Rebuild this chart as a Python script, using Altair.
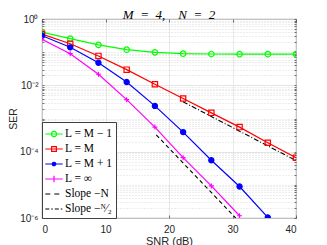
import altair as alt
import pandas as pd

# ---- data ----
snr = [0, 4.444, 8.889, 13.333, 17.778, 22.222, 26.667, 31.111, 35.556, 40]
ser_m_minus_1 = [0.40, 0.255, 0.165, 0.119, 0.099, 0.090, 0.088, 0.087, 0.087, 0.087]
ser_m = [0.353, 0.18, 0.077, 0.0297, 0.0108, 0.0040, 0.00148, 5.5e-4, 1.86e-4, 6.6e-5]
ser_m_plus_1 = [0.314, 0.14, 0.048, 0.0126, 0.0024, 3.9e-4, 5.5e-5, 8.9e-6, 1.04e-6]
ser_inf = [0.245, 0.090, 0.0216, 0.0037, 5.5e-4, 6.6e-5, 9.3e-6, 1.17e-6]

slope_n_snr = [18.0, 30.5]
slope_n_ser = [3.2e-4, 1.0e-6]
slope_half_snr = [22.2, 40.0]
slope_half_ser = [3.2e-3, 5.4e-5]

names = ["L = M − 1", "L = M", "L = M + 1", "L = ∞", "Slope −N", "Slope −ᴺ⁄₂"]
colors = ["#00ff00", "#ff0000", "#0000ff", "#ff00ff", "#000000", "#000000"]
title_text = "M\u2002=\u20024,\u2003N\u2002=\u20022"

x_ticks = [0, 10, 20, 30, 40]
y_major = [1, 1e-2, 1e-4, 1e-6]
y_minor = [m * 10.0 ** k for k in range(-6, 0) for m in range(1, 10)
           if not (m == 1 and k % 2 == 0)]
y_all_ticks = [m * 10.0 ** k for k in range(-6, 0) for m in range(1, 10)] + [1]

# ---- tables ----
rows = []
for name, vals in zip(names[:4], [ser_m_minus_1, ser_m, ser_m_plus_1, ser_inf]):
    for s, v in zip(snr, vals):
        rows.append({"series": name, "snr": s, "ser": v})
curves = pd.DataFrame(rows)

slopes = pd.DataFrame(
    [{"series": names[4], "snr": s, "ser": v} for s, v in zip(slope_n_snr, slope_n_ser)]
    + [{"series": names[5], "snr": s, "ser": v} for s, v in zip(slope_half_snr, slope_half_ser)]
)

legend_df = pd.DataFrame({"series": names, "snr": [20] * 6, "ser": [1e-9] * 6})

xs = alt.Scale(domain=[0, 40], nice=False, zero=False)
ys = alt.Scale(type="log", domain=[1e-6, 1], nice=False)

axis_font = "Liberation Sans"
axis_col = "#262626"

x_axis = alt.Axis(values=x_ticks, grid=True, gridColor="#e3e3e3", gridWidth=0.8,
                  ticks=False, domain=False, labelFont=axis_font, labelFontSize=10,
                  labelColor=axis_col, labelPadding=6, title="SNR (dB)",
                  titleFont=axis_font, titleFontSize=11, titleFontWeight="normal",
                  titleColor=axis_col, titlePadding=1)

y_major_axis = alt.Axis(values=y_major, grid=True, gridColor="#dedede", gridWidth=0.8,
                        ticks=False, domain=False, orient="left",
                        labelExpr="round(log(datum.value)/LN10) == 0 ? '10⁰' : round(log(datum.value)/LN10) == -2 ? '10⁻²' : round(log(datum.value)/LN10) == -4 ? '10⁻⁴' : '10⁻⁶'",
                        labelFont=axis_font, labelFontSize=10, labelColor=axis_col,
                        labelPadding=4, title="SER", titleFont=axis_font,
                        titleFontSize=10.5, titleFontWeight="normal", titleColor=axis_col,
                        titlePadding=1)

y_minor_axis = alt.Axis(values=y_minor, grid=True, gridColor="#c4c4c4", gridWidth=0.6,
                        gridDash=[1, 2], ticks=False, domain=False, labels=False,
                        title=None, orient="left")


def tick_axis(values, orient, size):
    return alt.Axis(values=values, orient=orient, offset=-size, tickSize=size,
                    tickColor=axis_col, tickWidth=0.6, grid=False, domain=False,
                    labels=False, title=None)


slope_layer = alt.Chart(slopes).mark_line(clip=True, strokeWidth=1.1).encode(
    x=alt.X("snr:Q", scale=xs, axis=x_axis),
    y=alt.Y("ser:Q", scale=ys, axis=y_minor_axis),
    strokeDash=alt.StrokeDash("series:N", scale=alt.Scale(domain=names[4:], range=[[4, 3], [5, 2, 1, 2]]), legend=None),
    color=alt.value("black"),
)

line_layer = alt.Chart(curves).mark_line(clip=True, strokeWidth=1.2).encode(
    x=alt.X("snr:Q", scale=xs, axis=None),
    y=alt.Y("ser:Q", scale=ys, axis=y_major_axis),
    color=alt.Color("series:N", scale=alt.Scale(domain=names[:4], range=colors[:4]), legend=None),
)

point_layer = alt.Chart(curves).mark_point(clip=True, strokeWidth=1.2, filled=False, opacity=1).encode(
    x=alt.X("snr:Q", scale=xs, axis=tick_axis(x_ticks, "bottom", 3)),
    y=alt.Y("ser:Q", scale=ys, axis=tick_axis(y_all_ticks, "left", 2)),
    color=alt.Color("series:N", scale=alt.Scale(domain=names[:4], range=colors[:4]), legend=None),
    fill=alt.Fill("series:N", scale=alt.Scale(domain=names[:4], range=["transparent", "transparent", "#0000ff", "transparent"]), legend=None),
    shape=alt.Shape("series:N", scale=alt.Scale(domain=names[:4], range=["circle", "square", "circle", "M-1,0H1M0,-1V1"]), legend=None),
    size=alt.Size("series:N", scale=alt.Scale(domain=names[:4], range=[30, 25, 25, 49]), legend=None),
)

legend_paths = [
    "M-1.1,0H1.1M0.33,0A0.33,0.33,0,1,1,-0.33,0A0.33,0.33,0,1,1,0.33,0",
    "M-1.1,0H1.1M-0.3,-0.3H0.3V0.3H-0.3Z",
    "M-1.1,0H1.1M0.22,0A0.22,0.22,0,1,1,-0.22,0A0.22,0.22,0,1,1,0.22,0M0.12,0A0.12,0.12,0,1,1,-0.12,0A0.12,0.12,0,1,1,0.12,0M0.03,0A0.03,0.03,0,1,1,-0.03,0A0.03,0.03,0,1,1,0.03,0",
    "M-1.1,0H1.1M0,-0.4V0.4",
    "M-1.1,0H1.1",
    "M-1.1,0H1.1",
]
legend_dash = [[1, 0], [1, 0], [1, 0], [1, 0], [5, 4], [4, 2, 1.5, 2]]

leg = alt.Legend(title=None, orient="bottom-left", offset=0, padding=3,
                 fillColor="white", strokeColor="#404040",
                 labelFont="Liberation Serif", labelFontSize=11.5, labelColor="black",
                 symbolSize=250, symbolStrokeWidth=1.2, symbolOpacity=1,
                 rowPadding=0, labelOffset=2, labelLimit=200)

legend_layer = alt.Chart(legend_df).mark_point(clip=True, filled=False).encode(
    x=alt.X("snr:Q", scale=xs, axis=tick_axis(x_ticks, "top", 3)),
    y=alt.Y("ser:Q", scale=ys, axis=tick_axis(y_all_ticks, "right", 2)),
    color=alt.Color("series:N", scale=alt.Scale(domain=names, range=colors), legend=leg, sort=names),
    shape=alt.Shape("series:N", scale=alt.Scale(domain=names, range=legend_paths), legend=leg, sort=names),
    strokeDash=alt.StrokeDash("series:N", scale=alt.Scale(domain=names, range=legend_dash), legend=leg, sort=names),
)

chart = alt.layer(slope_layer, line_layer, point_layer, legend_layer).resolve_scale(
    color="independent", shape="independent", strokeDash="independent",
    fill="independent", size="independent"
).resolve_axis(x="independent", y="independent").properties(
    width=254, height=199, autosize="none",
    padding={"left": 34, "top": 11, "right": 23, "bottom": 27},
    title=alt.Title(title_text, font="Liberation Serif", fontSize=13,
                    fontStyle="italic", fontWeight="normal", color="black",
                    offset=3, dy=11),
).configure_view(stroke=axis_col, strokeWidth=0.9)

chart.save("out.html", embed_options={"renderer": "svg", "actions": False})
